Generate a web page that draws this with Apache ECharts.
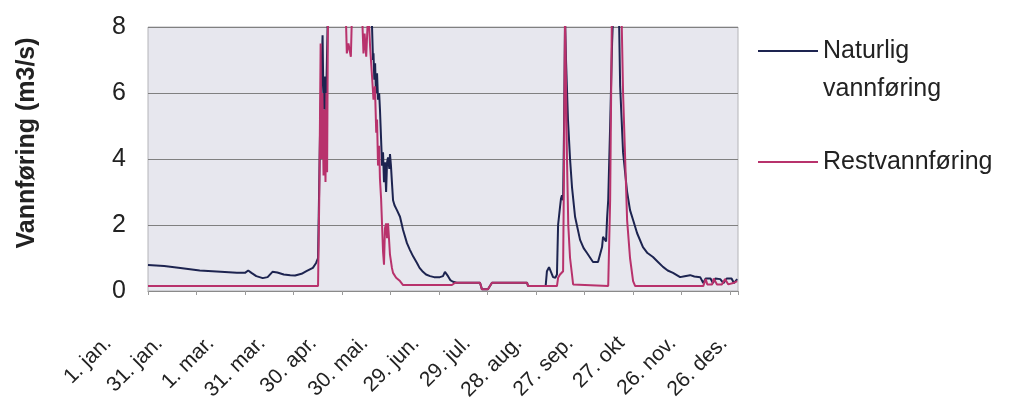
<!DOCTYPE html>
<html>
<head>
<meta charset="utf-8">
<script src="https://cdn.jsdelivr.net/npm/echarts@6/dist/echarts.min.js"></script>
<style>
  html, body { margin: 0; padding: 0; background: #ffffff; }
  #chart { width: 1023px; height: 416px; }
</style>
</head>
<body>
<div id="chart"></div>
<script>
// dagnummer (0 = 1. jan.) og vannføring (m3/s), lest av figuren
var natDays = [0, 10, 20, 32, 45, 55, 60, 62, 64, 67, 71, 74, 77, 80, 84, 88, 91, 95, 98, 102, 104, 105.2,
  106.5, 108, 108.6, 109.5, 110, 110.7, 111.5, 125, 137,
  138.6, 139.2, 139.5, 140, 140.5, 141, 141.7, 142.3, 143, 143.5,
  144.2, 144.8, 145.4, 146, 146.6, 147.3, 147.9, 148.5, 149.3, 149.7, 150.3, 150.9, 151.6, 152.5,
  154, 155.9, 157.8, 160.2, 162.1, 164, 166.4, 168, 170.1, 172, 174.5, 177, 180.6, 182.5, 183.7,
  184.5, 185.6, 187, 188.7, 191, 205.4, 206.6, 210.3, 212.8, 234.5, 235.1, 246,
  246.8, 248.1, 249, 250.6, 252, 253, 253.7, 254.9, 255.5, 256.1, 256.8, 257.4, 258, 258.6,
  259.8, 261.1, 262.3, 264.2, 267.3, 269.5, 271.6, 275.3, 278.4, 280.9, 281.5, 282.5, 283.4,
  284, 284.7, 285.9, 287.1, 289, 290.8, 292.1, 293.9, 296.4, 298.2, 300.1, 302.6, 306.2, 309,
  312.4, 315.5, 318.6, 321.5, 324.8, 329.2, 332, 335.4, 338, 341.6, 343.5,
  345, 348, 349.5, 351, 354, 356, 358, 361, 362.5, 364.5];
var natFlow = [0.79, 0.76, 0.7, 0.62, 0.58, 0.55, 0.55, 0.62, 0.55, 0.45, 0.39, 0.42, 0.58, 0.56, 0.5, 0.48, 0.47, 0.52, 0.6, 0.7, 0.85, 1.0,
  5.0, 7.75, 5.5, 6.5, 5.2, 7.0, 9, 12, 10,
  8.0, 7.0, 7.2, 6.4, 6.9, 6.0, 6.6, 5.8, 6.0, 5.5,
  4.6, 3.8, 4.2, 3.3, 3.9, 3.0, 3.9, 4.05, 3.7, 4.15, 3.8, 3.3, 2.75, 2.6,
  2.45, 2.25, 1.85, 1.45, 1.24, 1.05, 0.85, 0.7, 0.58, 0.5, 0.45, 0.42, 0.42, 0.45, 0.58,
  0.6, 0.45, 0.33, 0.28, 0.25, 0.25, 0.05, 0.05, 0.25, 0.25, 0.15, 0.15,
  0.6, 0.72, 0.7, 0.42, 0.4, 0.5, 2.0, 2.55, 2.8, 2.9, 2.75, 5.0, 8.2, 7.0,
  5.2, 4.0, 3.15, 2.25, 1.55, 1.3, 1.15, 0.88, 0.88, 1.33, 1.64, 1.7, 1.5,
  2.2, 2.75, 5.0, 7.5, 10, 10, 6.2, 4.2, 3.0, 2.45, 2.15, 1.75, 1.33, 1.15,
  1.03, 0.88, 0.73, 0.62, 0.55, 0.42, 0.45, 0.48, 0.44, 0.42, 0.24,
  0.38, 0.38, 0.24, 0.38, 0.36, 0.24, 0.38, 0.38, 0.24, 0.36];

var restDays = [0, 105.2, 106, 106.8, 107.3, 107.9, 108.6, 109.2, 109.8, 110.4, 110.8, 111.4,
  121.5, 123, 124, 125.5, 126.5, 132, 133.3, 134, 135, 136.3, 137.4, 138.6,
  139.5, 140.4, 141.2, 141.7, 142.3, 143, 143.5, 144.2, 144.8, 145.4, 146, 146.6, 147.3, 147.9,
  148.5, 149.2, 149.7, 150.9, 151.6, 153.5, 155.9, 157.8, 188, 190, 205.4, 206.6, 210.3, 212.8,
  234.5, 235.1, 253, 253.7, 254.9, 256.1, 256.8, 257.4, 258, 258.6, 259.2, 260, 261.1, 262.3,
  263, 264.2, 284.7, 285.9, 287.1, 292.7, 293.9, 296.4, 298.2, 300.1, 301.4, 343.5,
  345, 346, 349, 350, 352, 355, 357, 359, 362, 364.5];
var restFlow = [0.15, 0.15, 3.0, 7.5, 4.0, 6.0, 3.5, 5.5, 3.3, 6.0, 3.6, 9,
  10, 7.2, 7.5, 7.1, 9, 9, 7.2, 7.8, 7.1, 8.6, 7.4, 6.5,
  5.8, 6.2, 4.8, 5.2, 3.8, 4.4, 3.4, 2.8, 2.0, 1.2, 0.8, 1.9, 2.05, 1.6,
  2.05, 1.5, 1.1, 0.7, 0.55, 0.4, 0.3, 0.18, 0.18, 0.25, 0.25, 0.05, 0.05, 0.25,
  0.25, 0.15, 0.15, 0.4, 0.5, 0.55, 0.6, 4.0, 8.5, 8.5, 4.0, 2.0, 1.0, 0.5,
  0.2, 0.15, 0.15, 2.75, 9, 9, 6.0, 2.15, 1.0, 0.3, 0.15, 0.15,
  0.36, 0.2, 0.2, 0.38, 0.2, 0.2, 0.36, 0.2, 0.24, 0.3];

var tickDays = [0, 30, 60, 90, 120, 150, 180, 210, 240, 270, 300, 330, 360];
var tickLabels = ['1. jan.', '31. jan.', '1. mar.', '31. mar.', '30. apr.', '30. mai.', '29. jun.',
  '29. jul.', '28. aug.', '27. sep.', '27. okt', '26. nov.', '26. des.'];

var seriesNames = ['Naturlig vannføring', 'Restvannføring'];

function pairs(days, vals) {
  var out = [];
  for (var i = 0; i < days.length; i++) out.push([days[i], vals[i]]);
  return out;
}

var chart = echarts.init(document.getElementById('chart'), null, { renderer: 'canvas' });

var legendBase = {
  orient: 'vertical',
  left: 758,
  padding: 0,
  itemWidth: 60,
  itemHeight: 2,
  icon: 'rect',
  textStyle: { fontSize: 25, color: '#222', lineHeight: 38 }
};

chart.setOption({
  animation: false,
  textStyle: { fontFamily: 'Liberation Sans, Arial, sans-serif' },
  grid: [
    { left: 148, right: 285, top: 27, bottom: 125, show: true,
      backgroundColor: '#e7e7ee', borderColor: '#b4b4b8', borderWidth: 1 },
    // bare for å plassere datoetikettene
    { left: 108, right: 299, top: 291, height: 1 }
  ],
  legend: [
    echarts.util.merge({
      top: -6,
      data: [seriesNames[0]],
      // tom første linje, så streken står ved "Naturlig"
      formatter: function () { return '\nNaturlig\nvannføring'; }
    }, legendBase),
    echarts.util.merge({
      top: 143,
      data: [seriesNames[1]]
    }, legendBase)
  ],
  xAxis: [
    {
      type: 'value', gridIndex: 0, min: 0, max: 365, interval: 30,
      axisLine: { lineStyle: { color: '#8a8a8a' } },
      axisTick: { show: true, length: 4, lineStyle: { color: '#9a9a9a' } },
      axisLabel: { show: false },
      splitLine: { show: false }
    },
    {
      type: 'value', gridIndex: 1, min: 0, max: 360, interval: 30,
      axisLine: { show: false },
      axisTick: { show: false },
      splitLine: { show: false },
      axisLabel: {
        rotate: 45, margin: 48, fontSize: 21, color: '#222',
        formatter: function (v) {
          var i = tickDays.indexOf(v);
          return i >= 0 ? tickLabels[i] : '';
        }
      }
    }
  ],
  yAxis: [
    {
      type: 'value', gridIndex: 0, min: 0, max: 8, interval: 2,
      name: 'Vannføring (m3/s)',
      nameLocation: 'middle',
      nameGap: 108,
      nameTextStyle: { fontSize: 25, fontWeight: 'bold', color: '#222', padding: [0, 0, 0, 32] },
      axisLine: { show: false },
      axisTick: { show: false },
      axisLabel: { fontSize: 25, color: '#222', margin: 22 },
      splitLine: { lineStyle: { color: '#808080', width: 1 } }
    },
    {
      type: 'value', gridIndex: 1, min: 0, max: 1, show: false
    }
  ],
  series: [
    {
      name: seriesNames[0],
      type: 'line',
      xAxisIndex: 0, yAxisIndex: 0,
      showSymbol: false,
      symbol: 'none',
      lineStyle: { color: '#1d2450', width: 2 },
      itemStyle: { color: '#1d2450' },
      data: pairs(natDays, natFlow)
    },
    {
      name: seriesNames[1],
      type: 'line',
      xAxisIndex: 0, yAxisIndex: 0,
      showSymbol: false,
      symbol: 'none',
      lineStyle: { color: '#b8326c', width: 2 },
      itemStyle: { color: '#b8326c' },
      data: pairs(restDays, restFlow)
    }
  ]
});

window.addEventListener('resize', function () {
  chart.resize();
});
</script>
</body>
</html>
